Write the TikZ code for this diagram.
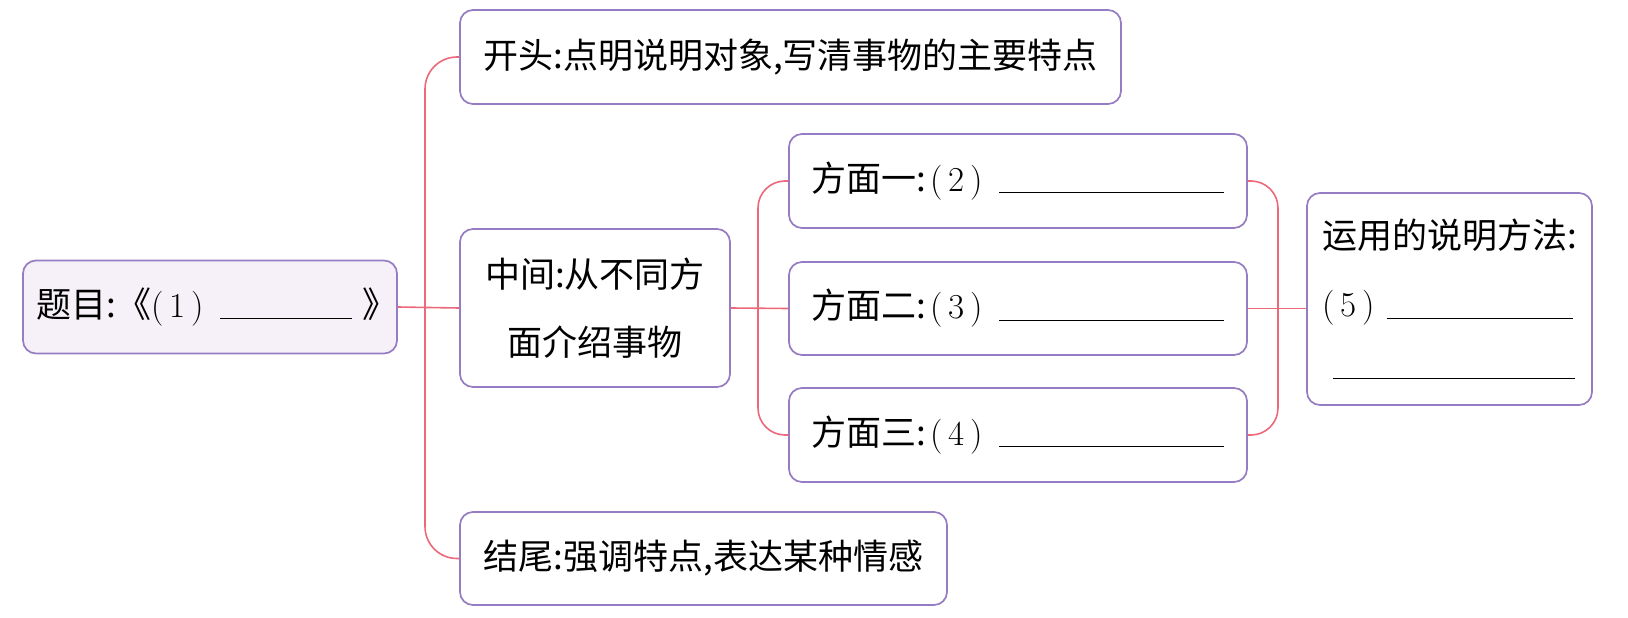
\documentclass[tikz,border=0pt]{standalone}
\usepackage{fontspec}
\newfontfamily\cjk{Noto Sans CJK SC}
\usetikzlibrary{positioning}
\definecolor{boxline}{RGB}{150,125,195}
\definecolor{boxfill}{RGB}{246,240,249}
\definecolor{linkred}{RGB}{236,105,122}
\newcommand\qno[1]{{\rmfamily(\,#1\,)}}
\newcommand\answerline[1]{\rule[-2pt]{#1}{1.3pt}}

\begin{document}
\begin{tikzpicture}[
  x=1pt, y=-1pt,
  every node/.style={font=\cjk\fontsize{35pt}{68pt}\selectfont},
  box/.style={draw=boxline, line width=1.7pt, rounded corners=13pt, fill=white, align=center, inner sep=4pt, minimum height=93pt},
  titlebox/.style={box, fill=boxfill},
  link/.style={draw=linkred, line width=1.6pt}
]
\useasboundingbox (0,0) rectangle (1628,618);
\node[titlebox, minimum width=374pt] (title) at (210,307) {题目:《\qno{1}\hspace{16pt}\answerline{132pt}\hspace{10pt}》\kern-14pt};
\node[box, minimum width=661pt, minimum height=94pt] (head) at (790.5,57) {开头:点明说明对象,写清事物的主要特点};
\node[box, minimum width=270pt, minimum height=158pt] (middle) at (595,308) {中间:从不同方\\面介绍事物};
\node[box, minimum width=487pt] (tail) at (703.5,558.5) {结尾:强调特点,表达某种情感};
\node[box, minimum width=458pt, minimum height=94pt] (aspA) at (1018,181) {方面一:\hspace{4pt}\qno{2}\hspace{16pt}\answerline{225pt}};
\node[box, minimum width=458pt] (aspB) at (1018,308.5) {方面二:\hspace{4pt}\qno{3}\hspace{16pt}\answerline{225pt}};
\node[box, minimum width=458pt, minimum height=94pt] (aspC) at (1018,435) {方面三:\hspace{4pt}\qno{4}\hspace{16pt}\answerline{225pt}};
\node[box, minimum width=285pt, minimum height=212pt, align=left] (methods) at (1449.5,299)
  {运用的说明方法:\\\qno{5}\hspace{12pt}\answerline{186pt}\\[-8pt]\hspace*{11pt}\answerline{242pt}};
% junctions
\coordinate (j1) at (425,308);
\coordinate (j2) at (758,308);
\coordinate (j3) at (1278,308);
\draw[link] (title.east) -- (middle.west);
\draw[link, rounded corners=32pt] (head.west) -| (j1) |- (tail.west);
\draw[link] (middle.east) -- (aspB.west);
\draw[link, rounded corners=27pt] (aspA.west) -| (j2) |- (aspC.west);
\draw[link, rounded corners=27pt] (aspA.east) -| (j3) |- (aspC.east);
\draw[link] (aspB.east) -- (aspB.east -| methods.west);
\end{tikzpicture}
\end{document}
